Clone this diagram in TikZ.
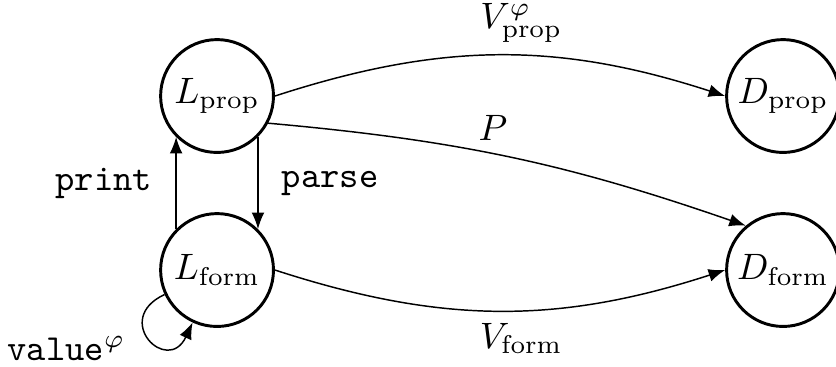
\documentclass[tikz,border=0pt]{standalone}
\usetikzlibrary{arrows.meta,positioning}
\begin{document}
\begin{tikzpicture}[
    node distance=0.557cm and 4.308cm,
    state/.style={draw, circle, thick, minimum size=1.08cm, inner sep=0pt},
    arrow/.style={-{Latex[length=4.5pt,width=3.5pt]}}
  ]
    \useasboundingbox (0,0) rectangle (8,-3.512);
    \node[state] (lprop) at (2.077,-0.919) {$L_{\mathrm{prop}}$};
    \node[state, below=of lprop] (lform) {$L_{\mathrm{form}}$};
    \node[state, right=of lprop] (dprop) {$D_{\mathrm{prop}}$};
    \node[state, right=of lform] (dform) {$D_{\mathrm{form}}$};

    \draw[arrow] (lprop.east) to[bend left=18] node[above, pos=0.55] {$V^{\varphi}_{\mathrm{prop}}$} (dprop.west);
    \draw[arrow] (lprop.-28) to[bend left=7] node[above, pos=0.46] {$P$} (dform.130);
    \draw[arrow] (lform.east) to[bend right=18] node[below, pos=0.55] {$V_{\mathrm{form}}$} (dform.west);
    \draw[arrow] (lprop.315) -- node[right=3pt] {\texttt{parse}} (lform.45);
    \draw[arrow] (lform.135) -- node[left=3pt] {\texttt{print}} (lprop.225);
    \draw[arrow] (lform) to[out=205, in=245, looseness=3.8] node[left=3pt, yshift=-3pt] {$\texttt{value}^{\varphi}$} (lform);
\end{tikzpicture}
\end{document}
